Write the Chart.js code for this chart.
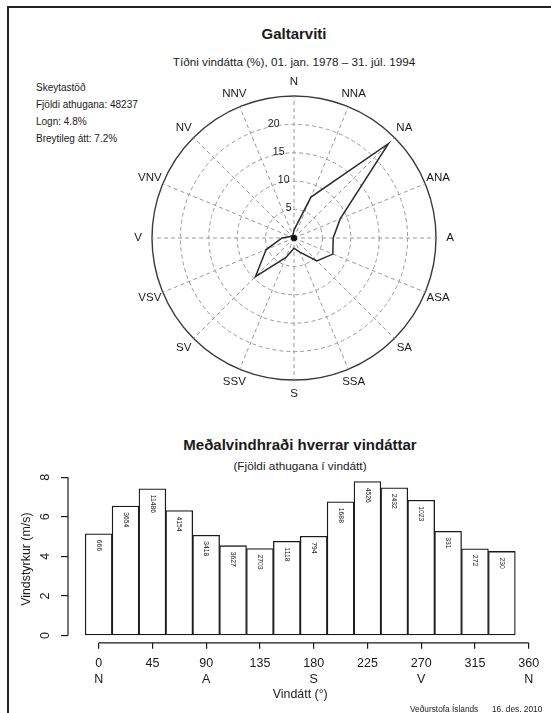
<!DOCTYPE html>
<html>
<head>
<meta charset="utf-8">
<script src="https://cdn.jsdelivr.net/npm/chart.js@4.4.0/dist/chart.umd.min.js"></script>
<style>
  html, body { margin: 0; padding: 0; background: #fff; }
  #page { position: relative; width: 551px; height: 713px; overflow: hidden; background: #fff;
          font-family: "Liberation Sans", Arial, Helvetica, sans-serif; color: #1a1a1a; }
  #frame { position: absolute; left: 7px; top: 6px; width: 600px; height: 800px;
           border-left: 2px solid #222; border-top: 2px solid #222; }
  .t { position: absolute; white-space: nowrap; line-height: 1; }
  .c { transform: translate(-50%, -50%); }
  .l { transform: translate(0, -50%); }
  canvas { position: absolute; }
</style>
</head>
<body>
<div id="page">
  <div id="frame"></div>
  <div class="t c" style="left:294px; top:33px; font-size:15px; font-weight:bold;">Galtarviti</div>
  <div class="t c" style="left:294px; top:62px; font-size:11.7px;">Tíðni vindátta (%), 01. jan. 1978 – 31. júl. 1994</div>
  <div class="t l" style="left:36px; top:87.5px; font-size:10px;">Skeytastöð</div>
  <div class="t l" style="left:36px; top:104.5px; font-size:10px;">Fjöldi athugana: 48237</div>
  <div class="t l" style="left:36px; top:121.5px; font-size:10px;">Logn: 4.8%</div>
  <div class="t l" style="left:36px; top:138.5px; font-size:10px;">Breytileg átt: 7.2%</div>
  <div class="t c" style="left:300px; top:444px; font-size:15px; font-weight:bold;">Meðalvindhraði hverrar vindáttar</div>
  <div class="t c" style="left:300px; top:467px; font-size:11.8px;">(Fjöldi athugana í vindátt)</div>
  <canvas id="rose" width="340" height="340" style="left:124px; top:68px; width:340px; height:340px;"></canvas>
  <canvas id="bars" width="551" height="257" style="left:0px; top:456px; width:551px; height:257px;"></canvas>
  <div class="t l" style="left:410px; top:709px; font-size:8.3px;">Veðurstofa Íslands</div>
  <div class="t l" style="left:492px; top:709px; font-size:8.3px;">16. des. 2010</div>
</div>
<script>
// ---------- data ----------
const directions = ['N','NNA','NA','ANA','A','ASA','SA','SSA','S','SSV','SV','VSV','V','VNV','NV','NNV'];
const freqPct    = [1.4, 7.8, 23.5, 8.8, 6.9, 7.4, 5.7, 2.7, 1.8, 3.7, 9.6, 5.3, 2.1, 0.7, 0.6, 0.5];
const radialTicks = [5, 10, 15, 20];
const radialMax = 25;

const dirDeg     = [0, 22.5, 45, 67.5, 90, 112.5, 135, 157.5, 180, 202.5, 225, 247.5, 270, 292.5, 315, 337.5];
const meanSpeed  = [5.14, 6.54, 7.42, 6.32, 5.07, 4.54, 4.40, 4.76, 5.02, 6.76, 7.78, 7.47, 6.84, 5.27, 4.38, 4.25];
const obsCount   = [666, 3654, 11486, 4154, 3418, 3627, 2703, 1118, 794, 1688, 4526, 2432, 1023, 331, 272, 230];
const xTicks     = [0, 45, 90, 135, 180, 225, 270, 315, 360];
const xTickNames = ['N', '', 'A', '', 'S', '', 'V', '', 'N'];
const yTicks     = [0, 2, 4, 6, 8];

const FONT = '"Liberation Sans", Arial, Helvetica, sans-serif';
Chart.defaults.font.family = FONT;
Chart.defaults.color = '#1a1a1a';
Chart.defaults.animation = false;

// ---------- wind rose (radar) ----------
const roseLabelPlugin = {
  id: 'roseLabels',
  afterDraw(chart) {
    const s = chart.scales.r;
    const ctx = chart.ctx;
    ctx.save();
    ctx.fillStyle = '#1a1a1a';
    ctx.textAlign = 'center';
    ctx.textBaseline = 'middle';
    // compass labels around the outer circle
    ctx.font = '11.5px ' + FONT;
    directions.forEach((lab, i) => {
      const p = s.getPointPosition(i, s.drawingArea + 14);
      ctx.fillText(lab, p.x, p.y);
    });
    // radial value labels, between N and NNV
    ctx.font = '10.5px ' + FONT;
    radialTicks.forEach(v => {
      const p = s.getPointPosition(-0.45, s.getDistanceFromCenterForValue(v) + 2);
      ctx.fillText(String(v), p.x, p.y);
    });
    ctx.restore();
  }
};

new Chart(document.getElementById('rose'), {
  type: 'radar',
  data: {
    labels: directions,
    datasets: [{
      data: freqPct,
      borderColor: '#2a2a2a',
      borderWidth: 1.5,
      fill: false,
      pointRadius: 0,
      tension: 0
    }, {
      data: directions.map(() => 0),
      showLine: false,
      pointRadius: 2.5,
      pointBackgroundColor: '#111',
      pointBorderWidth: 0
    }]
  },
  options: {
    responsive: false,
    layout: { padding: 28 },
    plugins: { legend: { display: false }, tooltip: { enabled: false } },
    scales: {
      r: {
        min: 0, max: radialMax,
        ticks: { display: false, stepSize: 5 },
        grid: {
          circular: true,
          color: c => (c.tick && c.tick.value === radialMax) ? '#3a3a3a' : '#9a9a9a',
          lineWidth: c => (c.tick && c.tick.value === radialMax) ? 1.4 : 1
        },
        border: { dash: c => (c.tick && c.tick.value === radialMax) ? [] : [4, 3] },
        angleLines: { color: '#9a9a9a', lineWidth: 1, borderDash: [4, 3] },
        pointLabels: { display: false }
      }
    }
  },
  plugins: [roseLabelPlugin]
});

// ---------- mean wind speed bars ----------
const axisLinePlugin = {
  id: 'axisLines',
  afterDraw(chart) {
    const x = chart.scales.x, y = chart.scales.y, ctx = chart.ctx;
    ctx.save();
    ctx.strokeStyle = '#1a1a1a';
    ctx.lineWidth = 1.2;
    ctx.beginPath();
    ctx.moveTo(x.getPixelForValue(xTicks[0]), x.top);
    ctx.lineTo(x.getPixelForValue(xTicks[xTicks.length - 1]), x.top);
    ctx.moveTo(y.right, y.getPixelForValue(yTicks[0]));
    ctx.lineTo(y.right, y.getPixelForValue(yTicks[yTicks.length - 1]));
    ctx.stroke();
    // observation counts inside bars
    ctx.font = '6.8px ' + FONT;
    ctx.fillStyle = '#1a1a1a';
    ctx.textAlign = 'left';
    ctx.textBaseline = 'middle';
    dirDeg.forEach((d, i) => {
      const px = x.getPixelForValue(d);
      const py = y.getPixelForValue(meanSpeed[i]) + 6;
      ctx.save();
      ctx.translate(px, py);
      ctx.rotate(Math.PI / 2);
      ctx.fillText(String(obsCount[i]), 0, 0);
      ctx.restore();
    });
    ctx.restore();
  }
};

new Chart(document.getElementById('bars'), {
  type: 'bar',
  data: {
    datasets: [{
      data: dirDeg.map((d, i) => ({ x: d, y: meanSpeed[i] })),
      backgroundColor: '#ffffff',
      borderColor: '#1a1a1a',
      borderWidth: 1.3,
      borderSkipped: false,
      barPercentage: 1,
      categoryPercentage: 1
    }]
  },
  options: {
    responsive: false,
    layout: { padding: { top: 0, right: 18.5, left: 0, bottom: 0 } },
    plugins: { legend: { display: false }, tooltip: { enabled: false } },
    scales: {
      x: {
        type: 'linear',
        offset: false,
        min: -25.65, max: 363.15,
        afterBuildTicks: s => { s.ticks = xTicks.map(v => ({ value: v })); },
        afterFit: s => { s.height = 70.2; },
        grid: { offset: false, drawOnChartArea: false, drawTicks: true, tickLength: 6, color: '#1a1a1a', lineWidth: 1.2 },
        border: { display: false },
        ticks: {
          autoSkip: false, maxRotation: 0, padding: 7,
          font: { size: 12.5, lineHeight: 1.24 }, color: '#1a1a1a',
          callback: (v) => { const i = xTicks.indexOf(v); return [String(v), xTickNames[i]]; }
        },
        title: { display: true, text: 'Vindátt (°)', font: { size: 12.4, lineHeight: 1.2 }, color: '#1a1a1a', padding: { top: 0, bottom: 10.5 } }
      },
      y: {
        min: -0.37, max: 8.09,
        afterBuildTicks: s => { s.ticks = yTicks.map(v => ({ value: v })); },
        afterFit: s => { s.width = 68; },
        grid: { drawOnChartArea: false, drawTicks: true, tickLength: 7, color: '#1a1a1a', lineWidth: 1.2 },
        border: { display: false },
        ticks: { minRotation: 90, maxRotation: 90, crossAlign: 'center', padding: 12, font: { size: 12.5, lineHeight: 1.2 }, color: '#1a1a1a' },
        title: { display: true, text: 'Vindstyrkur (m/s)', font: { size: 12.4, lineHeight: 1.2 }, color: '#1a1a1a', padding: { top: 19.2, bottom: 0 } }
      }
    }
  },
  plugins: [axisLinePlugin]
});
</script>
</body>
</html>
